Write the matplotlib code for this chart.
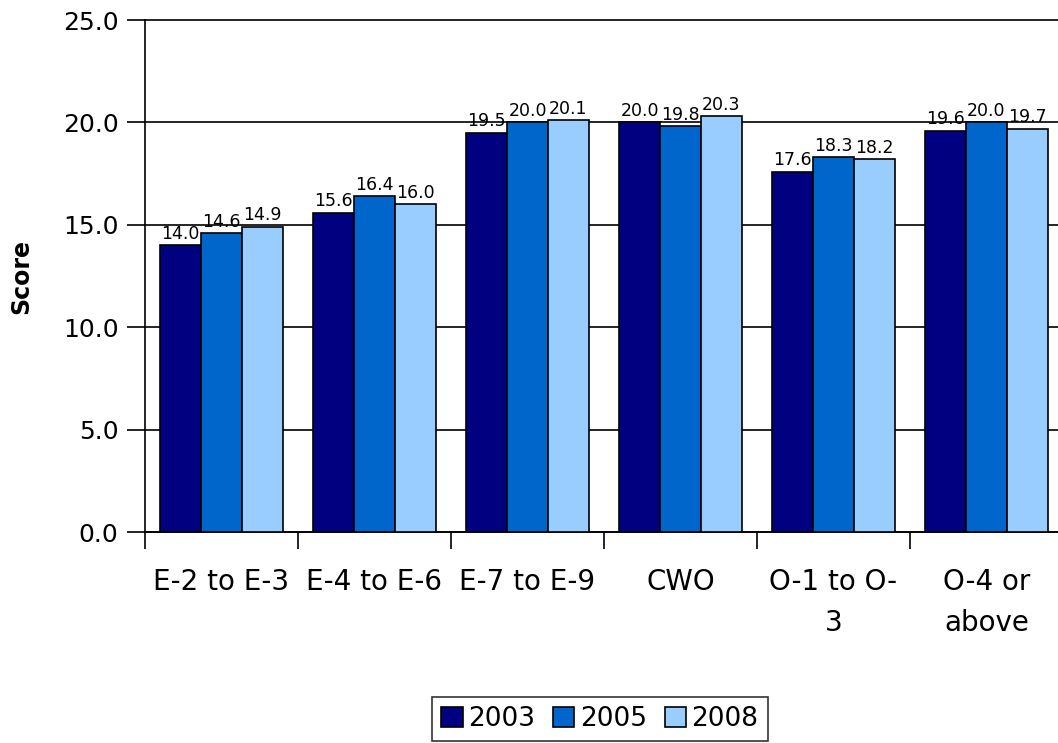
import matplotlib
matplotlib.use("Agg")
from matplotlib import pyplot as plt
import numpy as np

categories = ["E-2 to E-3", "E-4 to E-6", "E-7 to E-9", "CWO", "O-1 to O-\n3", "O-4 or\nabove"]
years = ["2003", "2005", "2008"]
v2003 = [14.0, 15.6, 19.5, 20.0, 17.6, 19.6]
v2005 = [14.6, 16.4, 20.0, 19.8, 18.3, 20.0]
v2008 = [14.9, 16.0, 20.1, 20.3, 18.2, 19.7]
colors = ["#000080", "#0066CC", "#99CCFF"]

plt.rcParams['font.family'] = ['DejaVu Sans']

fig = plt.figure(figsize=(10.58, 7.43), dpi=100)
W, H = 1058, 743
ax = fig.add_axes([145 / W, 1 - 532 / H, 918 / W, 512 / H])

x = np.arange(len(categories))
bw = 0.267
series = [v2003, v2005, v2008]
for k, vals in enumerate(series):
    pos = x + (k - 1) * bw
    ax.bar(pos, vals, bw, color=colors[k], edgecolor="black", linewidth=1.2,
           label=years[k], zorder=3)
    for p, v in zip(pos, vals):
        ax.text(p, v + 0.12, "%.1f" % v, ha="center", va="bottom", fontsize=12.5, zorder=4)

ax.set_xlim(-0.5, len(categories) - 0.5)
ax.set_ylim(0, 25)
ax.set_yticks(np.arange(0, 26, 5))
ax.set_yticklabels(["%.1f" % t for t in np.arange(0, 26, 5)], fontsize=18)
ax.yaxis.grid(True, color="black", linewidth=1.2, zorder=0)
for gl in ax.get_ygridlines():
    gl.set_clip_on(False)
ax.set_axisbelow(True)

ax.set_xticks(np.arange(-0.5, len(categories) - 0.5 + 0.01, 1))
ax.set_xticklabels([])
ax.set_xticks(x, minor=True)
ax.set_xticklabels(categories, minor=True, fontsize=20, linespacing=1.6)
ax.tick_params(axis="x", which="minor", length=0, pad=26)
ax.tick_params(axis="x", which="major", length=12, width=1.2, direction="out")
ax.tick_params(axis="y", length=13, width=1.2, direction="out", pad=6)

for s in ["top", "right"]:
    ax.spines[s].set_visible(False)
for s in ["left", "bottom"]:
    ax.spines[s].set_linewidth(1.2)

ax.set_ylabel("Score", fontsize=17, fontweight="bold")
ax.yaxis.set_label_coords((33 - 145) / 918, 0.5)

leg = fig.legend(loc="upper center", bbox_to_anchor=(600 / W, 1 - 697 / H), ncol=3,
                 fontsize=19, frameon=True, fancybox=False, edgecolor="black",
                 handlelength=0.8, handleheight=0.8, handletextpad=0.2,
                 columnspacing=0.7, borderpad=0.35, borderaxespad=0)
leg.get_frame().set_linewidth(1.2)
for h in leg.legend_handles:
    h.set_linewidth(1.2)

fig.savefig("out.png", dpi=100)
